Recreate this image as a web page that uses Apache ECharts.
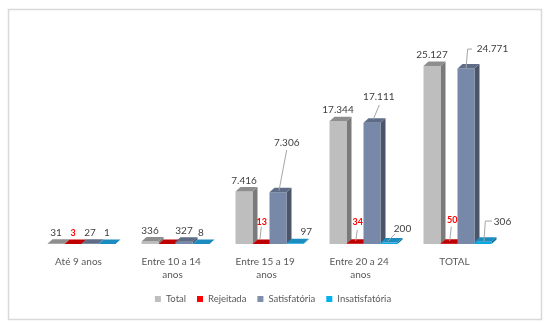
<!DOCTYPE html>
<html>
<head>
<meta charset="utf-8">
<script src="https://cdn.jsdelivr.net/npm/echarts@6/dist/echarts.min.js"></script>
<style>
html,body{margin:0;padding:0;background:#fff;}
#chart{width:546px;height:322px;}
</style>
</head>
<body>
<div id="chart"></div>
<script>
const categories = ['Até 9 anos', 'Entre 10 a 14 anos', 'Entre 15 a 19 anos', 'Entre 20 a 24 anos', 'TOTAL'];
const seriesNames = ['Total', 'Rejeitada', 'Satisfatória', 'Insatisfatória'];
const totalValues = [31, 336, 7416, 17344, 25127];
const rejeitadaValues = [3, 0, 13, 34, 50];
const satisfatoriaValues = [27, 327, 7306, 17111, 24771];
const insatisfatoriaValues = [1, 8, 97, 200, 306];
const allValues = [totalValues, rejeitadaValues, satisfatoriaValues, insatisfatoriaValues];

// styles
const FONT = 'Lato';
const legendColors = ['#BFBFBF', '#FF0000', '#7F8FA9', '#00B0F0'];
const faceColors = [
  {front: '#BEBEBE', top: '#8E8E8E', side: '#7A7A7A'},
  {front: '#C00000', top: '#C00000', side: '#8A0000'},
  {front: '#7888A8', top: '#5E6C87', side: '#4A5568'},
  {front: '#0AA8E0', top: '#1A8CC0', side: '#0A6E96'}
];
const DX = 5, DY = -4.5;
// label nudges relative to the bar's front-top centre: key "series-category"
const labelLayout = {
  '1-2': {off: [0.7, -22], line: [[0.3, -17], [-1, -5]]},
  '2-2': {off: [8.7, -49.6], line: [[8.7, -42.3], [1, -1.6]]},
  '3-2': {off: [11.3, -11.6]},
  '1-3': {off: [2.7, -21.5], line: [[2.3, -13.8], [0.7, -2.8]]},
  '2-3': {off: [6.8, -26], line: [[7.3, -17.8], [1.3, -3.5]]},
  '3-3': {off: [13.5, -14.3], line: [[6, -8.6], [-1, -1.6]]},
  '1-4': {off: [3.3, -23.6], line: [[2.3, -16.9], [0.7, -2.6]]},
  '2-4': {off: [26.5, -19.8], line: [[6, -19.5], [1.7, -19.5], [0, -0.5]]},
  '3-4': {off: [19.5, -20], line: [[9, -20.8], [2.3, -20.8], [1, -0.8]]}
};

function fmt(v) {
  return v.toString().replace(/\B(?=(\d{3})+(?!\d))/g, '.');
}

function makeRender(sIdx) {
  return function (params, api) {
    const c = api.value(0), v = api.value(1);
    const base = api.coord([c, 0]);
    const top = api.coord([c, v]);
    const band = api.size([1, 0])[0];
    const bw = band * 17 / 94;
    const gc = base[0] + band * 3 / 94;
    const x0 = gc - 2 * bw + sIdx * bw;
    const by = base[1], ty = top[1];
    const col = faceColors[sIdx];
    const children = [
      {type: 'polygon', shape: {points: [[x0 + bw, ty], [x0 + bw + DX, ty + DY], [x0 + bw + DX, by + DY], [x0 + bw, by]]}, style: {fill: col.side}},
      {type: 'rect', shape: {x: x0, y: ty, width: bw, height: by - ty}, style: {fill: col.front}},
      {type: 'polygon', shape: {points: [[x0, ty], [x0 + bw, ty], [x0 + bw + DX, ty + DY], [x0 + DX, ty + DY]]}, style: {fill: col.top}}
    ];
    if (v > 0) {
      const ax = x0 + bw / 2, ay = ty;
      const lay = labelLayout[sIdx + '-' + c] || {off: [0, -11]};
      const isRed = sIdx === 1;
      children.push({
        type: 'text',
        x: ax + lay.off[0], y: ay + lay.off[1],
        style: {
          text: fmt(v), align: 'center', verticalAlign: 'middle',
          fill: isRed ? '#FF0000' : '#404040',
          font: (isRed ? 'bold 9px ' : '10px ') + FONT
        },
        z2: 10
      });
      if (lay.line) {
        children.push({
          type: 'polyline',
          shape: {points: lay.line.map(p => [ax + p[0], ay + p[1]])},
          style: {stroke: '#A6A6A6', lineWidth: 1, fill: null},
          z2: 9
        });
      }
    }
    return {type: 'group', children: children};
  };
}

const chart = echarts.init(document.getElementById('chart'));
const option = {
  animation: false,
  backgroundColor: '#fff',
  graphic: [{
    type: 'rect', left: 6, top: 7,
    shape: {width: 533, height: 310},
    style: {fill: null, stroke: '#D9D9D9', lineWidth: 1.5},
    z: -1
  }],
  grid: {left: 31.5, right: 44.5, top: 31.5, bottom: 78},
  legend: {
    bottom: 13, left: 'center',
    itemWidth: 6, itemHeight: 6, itemGap: 11,
    icon: 'rect',
    textStyle: {fontFamily: FONT, fontSize: 9.5, color: '#595959'},
    data: seriesNames
  },
  xAxis: {
    type: 'category', data: categories,
    axisLine: {show: false}, axisTick: {show: false},
    axisLabel: {
      margin: 11, color: '#595959', fontFamily: FONT, fontSize: 10, lineHeight: 13,
      width: 66, overflow: 'break', interval: 0
    }
  },
  yAxis: {type: 'value', min: 0, max: 30000, show: false, splitLine: {show: false}},
  series: seriesNames.map((name, i) => ({
    type: 'custom', name: name,
    itemStyle: {color: legendColors[i]},
    renderItem: makeRender(i),
    encode: {x: 0, y: 1},
    data: allValues[i].map((v, k) => [k, v])
  }))
};
chart.setOption(option);
</script>
</body>
</html>
